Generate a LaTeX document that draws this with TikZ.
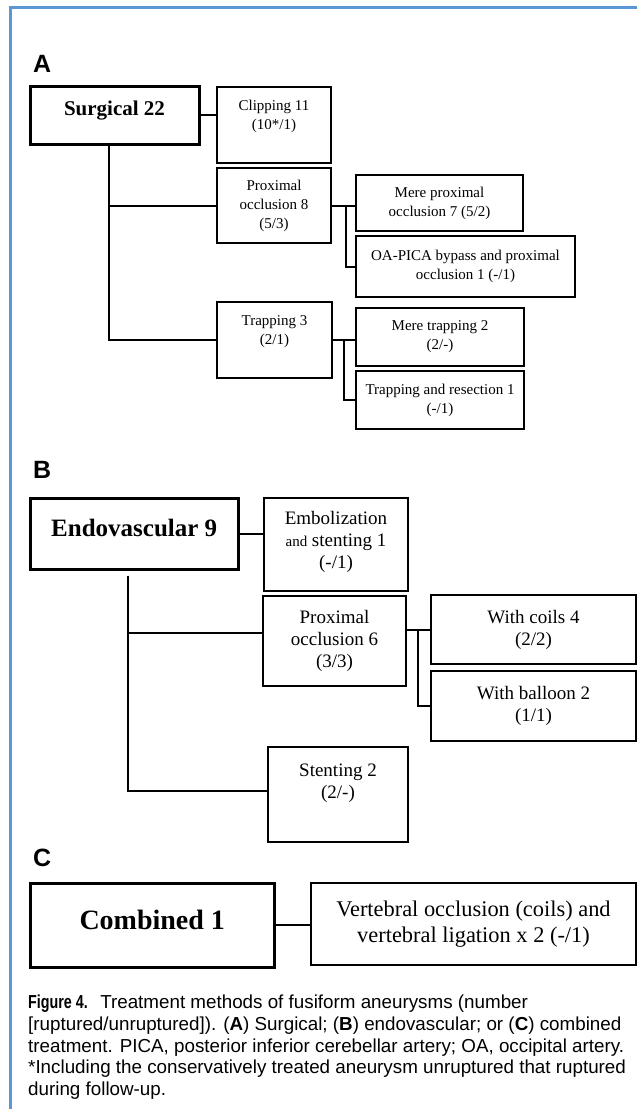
\documentclass[tikz,border=0pt]{standalone}
\usepackage{fontspec}
\usepackage{graphicx}
\setmainfont{Liberation Serif}
\newfontfamily\capfont{Liberation Sans}
\definecolor{FrameBlue}{HTML}{5B97D5}
% extra depth under the last line, to lift the text in its box
\newcommand{\padlow}[1]{\rule[-#1]{0pt}{#1}}

\begin{document}
\begin{tikzpicture}[x=1pt, y=-1pt,
    thickbox/.style={draw, line width=3pt, inner sep=0pt, align=center},
    thinbox/.style={draw, line width=1.9pt, inner sep=0pt, align=center},
    boxA/.style={thinbox, font=\fontsize{15}{19}\selectfont},
    boxB/.style={thinbox, font=\fontsize{19}{22}\selectfont},
    link/.style={line width=2pt},
    panel/.style={anchor=base west, inner sep=0pt, font=\capfont\bfseries\fontsize{25}{25}\selectfont}]

    \useasboundingbox (0,0) rectangle (637,1109);
    \draw[FrameBlue, line width=3pt] (10,1109) |- (637,7.5);

    % A: surgical
    \node[panel] (labA) at (33,72) {A};
    \node[thickbox, minimum width=169pt, minimum height=58pt,
          font=\bfseries\fontsize{21}{24}\selectfont] (surg) at (114.5,115) {Surgical 22\padlow{14pt}};
    \node[boxA, minimum width=114pt, minimum height=76pt] (clip) at (274,125) {Clipping 11\\(10*/1)\padlow{21pt}};
    \node[boxA, minimum width=114pt, minimum height=75pt] (prox8) at (274,205.5) {Proximal\\occlusion 8\\(5/3)};
    \node[boxA, minimum width=167pt, minimum height=56pt] (mprox) at (439.5,203) {Mere proximal\\occlusion 7 (5/2)};
    \node[boxA, minimum width=219pt, minimum height=61pt] (oapica) at (465.5,266.5) {OA-PICA bypass and proximal\\occlusion 1 (-/1)};
    \node[boxA, minimum width=115pt, minimum height=76pt] (trap) at (274.5,340) {Trapping 3\\(2/1)\padlow{20pt}};
    \node[boxA, minimum width=168pt, minimum height=58pt] (mtrap) at (440,337) {Mere trapping 2\\(2/-)};
    \node[boxA, minimum width=168pt, minimum height=58pt] (tres) at (440,400) {Trapping and resection 1\\(-/1)};

    \draw[link] (surg.east) -- (surg.east -| clip.west);
    \draw[link] ([xshift=-5.5pt]surg.south) |- (prox8.west);
    \draw[link] ([xshift=-5.5pt]surg.south) |- (trap.west);
    \draw[link] (prox8.east) -- (prox8.east -| mprox.west);
    \draw[link] (prox8.east) ++(14,0) |- (oapica.west);
    \draw[link] (trap.east) -- (trap.east -| mtrap.west);
    \draw[link] (trap.east) ++(11,0) |- (tres.west);

    % B: endovascular
    \node[panel] (labB) at (33,478) {B};
    \node[thickbox, minimum width=207.5pt, minimum height=71pt,
          font=\bfseries\fontsize{25}{28}\selectfont] (endo) at (134.25,533.5) {Endovascular 9\padlow{11pt}};
    \node[boxB, minimum width=144pt, minimum height=93pt] (embo) at (336,544.5)
        {Embolization\\{\fontsize{15}{22}\selectfont and} stenting 1\\(-/1)\padlow{9pt}};
    \node[boxB, minimum width=143pt, minimum height=90pt] (prox6) at (334.5,641) {Proximal\\occlusion 6\\(3/3)};
    \node[boxB, minimum width=205pt, minimum height=69pt] (coils) at (533.5,629.5) {With coils 4\\(2/2)};
    \node[boxB, minimum width=205pt, minimum height=70pt] (balloon) at (533.5,706) {With balloon 2\\(1/1)};
    \node[boxB, minimum width=140pt, minimum height=95pt] (stent) at (338,794.5) {Stenting 2\\(2/-)\padlow{27pt}};

    \draw[link] (endo.east) -- (endo.east -| embo.west);
    \draw[link] ([xshift=-6pt,yshift=-5pt]endo.south) |- ([yshift=8pt]prox6.west);
    \draw[link] ([xshift=-6pt,yshift=-5pt]endo.south) |- ([yshift=4pt]stent.west);
    \draw[link] (prox6.east |- coils.west) -- (coils.west);
    \draw[link] (coils.west) ++(-12,0) |- (balloon.west);

    % C: combined
    \node[panel] (labC) at (33,866) {C};
    \node[thickbox, minimum width=243.5pt, minimum height=84pt,
          font=\bfseries\fontsize{28}{30}\selectfont] (comb) at (152.25,925) {Combined 1\padlow{10pt}};
    \node[thinbox, minimum width=325pt, minimum height=82pt,
          font=\fontsize{22.4}{26}\selectfont] (vert) at (473.5,924)
        {Vertebral occlusion (coils) and\\vertebral ligation x 2 (-/1)};
    \draw[link] (comb.east) -- (comb.east -| vert.west);

    % caption
    \node[anchor=north west, inner sep=0pt, align=left,
          font=\capfont\fontsize{18.8}{21.7}\selectfont] (caption) at (28,995)
        {\scalebox{0.76}[1]{\textbf{Figure 4.}}\enspace\thinspace Treatment methods of fusiform aneurysms (number\\
         {}[ruptured/unruptured]). (\textbf{A}) Surgical; (\textbf{B}) endovascular; or (\textbf{C}) combined\\
         treatment. PICA, posterior inferior cerebellar artery; OA, occipital artery.\\
         *Including the conservatively treated aneurysm unruptured that ruptured\\
         during follow-up.};
\end{tikzpicture}
\end{document}
